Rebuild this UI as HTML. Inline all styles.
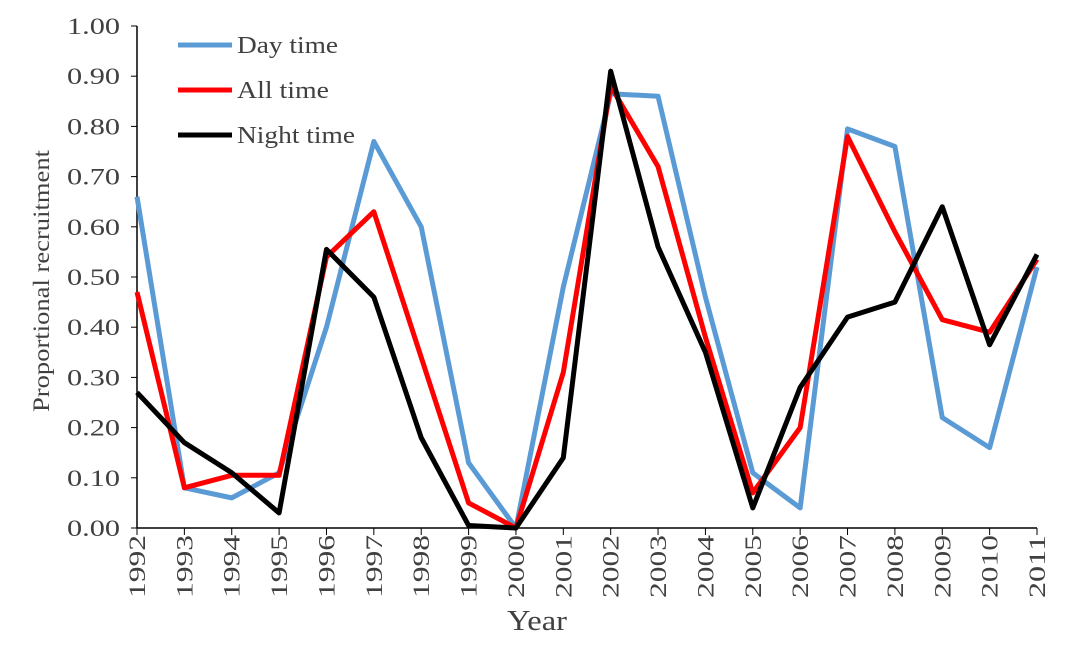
<!DOCTYPE html>
<html><head><style>body{margin:0;background:#fff}</style></head><body>
<svg width="1075" height="642" xmlns="http://www.w3.org/2000/svg" font-family="Liberation Serif, serif" fill="#404040">
<rect width="1075" height="642" fill="#fff"/>
<g stroke="#000" stroke-width="1.5">
<line x1="137" y1="26" x2="137" y2="528"/>
<line x1="137" y1="528" x2="1037" y2="528"/>
</g>
<g id="ticks"></g>
<g id="lab" font-size="23" text-anchor="end"></g>
<g id="xl" font-size="23"></g>
<text x="507" y="630" font-size="28" textLength="60" lengthAdjust="spacingAndGlyphs">Year</text>
<text transform="translate(49,412) rotate(-90)" x="0" y="0" font-size="23" textLength="262" lengthAdjust="spacingAndGlyphs">Proportional recruitment</text>
<g id="series" fill="none" stroke-width="5" stroke-linejoin="round"></g>
<g stroke-width="5">
<line x1="178" y1="45" x2="232" y2="45" stroke="#5b9bd5"/>
<line x1="178" y1="90" x2="232" y2="90" stroke="#ff0000"/>
<line x1="178" y1="135" x2="232" y2="135" stroke="#000"/>
</g>
<g font-size="24" fill="#404040">
<text x="237" y="53" textLength="101" lengthAdjust="spacingAndGlyphs">Day time</text>
<text x="237" y="98" textLength="92" lengthAdjust="spacingAndGlyphs">All time</text>
<text x="237" y="143" textLength="118" lengthAdjust="spacingAndGlyphs">Night time</text>
</g>
</svg>
<script>
var ns="http://www.w3.org/2000/svg";
function el(t,a,p,txt){var e=document.createElementNS(ns,t);for(var k in a)e.setAttribute(k,a[k]);if(txt)e.textContent=txt;document.getElementById(p).appendChild(e);}
var X=function(i){return 137+i*900/19},Y=function(v){return 528-v*502};
for(var i=0;i<=10;i++){var y=Y(i/10);el('text',{x:67,y:y+8,'text-anchor':'start',textLength:53,lengthAdjust:'spacingAndGlyphs'},'lab',(i/10).toFixed(2));el('line',{x1:131,x2:137,y1:y,y2:y,stroke:'#000'},'ticks');}
for(var i=0;i<20;i++){var x=X(i);el('line',{x1:x,x2:x,y1:528,y2:535,stroke:'#000'},'ticks');el('text',{transform:'translate('+(x+8)+',598) rotate(-90)',textLength:63,lengthAdjust:'spacingAndGlyphs'},'xl',''+(1992+i));}
var d={"#5b9bd5":[0.66,0.08,0.06,0.11,0.40,0.77,0.60,0.13,0,0.48,0.865,0.86,0.46,0.11,0.04,0.795,0.76,0.22,0.16,0.52],
"#ff0000":[0.47,0.08,0.105,0.105,0.54,0.63,0.34,0.05,0,0.31,0.88,0.72,0.38,0.07,0.20,0.78,0.59,0.415,0.39,0.535],
"#000000":[0.27,0.17,0.11,0.03,0.555,0.46,0.18,0.005,0,0.14,0.91,0.56,0.35,0.04,0.28,0.42,0.45,0.64,0.365,0.545]};
for(var c in d){el('polyline',{stroke:c,points:d[c].map(function(v,i){return X(i)+','+Y(v)}).join(' ')},'series');}
</script>
</body></html>
